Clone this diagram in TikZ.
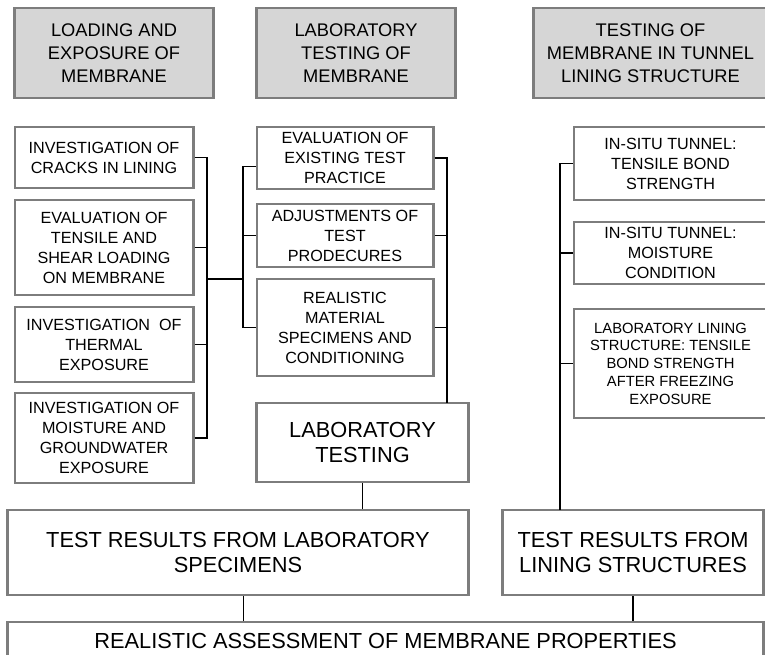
\documentclass[tikz,border=0pt]{standalone}
\usepackage{fontspec}
\setmainfont{Liberation Sans}
\definecolor{boxgray}{RGB}{125,125,125}
\definecolor{headfill}{RGB}{214,214,214}

\begin{document}
\begin{tikzpicture}[x=0.025cm, y=-0.025cm,
  box/.style = {draw=boxgray, line width=2.1pt, fill=white, inner sep=0pt, align=center},
  head/.style = {box, fill=headfill, font=\fontsize{13}{16.4}\selectfont},
  small/.style = {box, font=\fontsize{11.5}{14.2}\selectfont},
  tiny/.style = {box, font=\fontsize{10.5}{12.6}\selectfont},
  big/.style = {box, font=\fontsize{15.5}{18.2}\selectfont},
  link/.style = {line width=1pt}]
\useasboundingbox (0,0) rectangle (765,655);

% headers
\path (114,53) node[head, minimum width=4.95cm, minimum height=2.25cm] (h1) {LOADING AND\\EXPOSURE OF\\MEMBRANE};
\path (356,53) node[head, minimum width=4.95cm, minimum height=2.25cm] (h2) {LABORATORY\\TESTING OF\\MEMBRANE};
\path (650.5,53) node[head, minimum width=5.825cm, minimum height=2.25cm] (h3) {TESTING OF\\MEMBRANE IN TUNNEL\\LINING STRUCTURE};

% left column
\path (104,157.5) node[small, minimum width=4.45cm, minimum height=1.525cm] (l1) {INVESTIGATION OF\\CRACKS IN LINING};
\path (104,247.5) node[small, minimum width=4.45cm, minimum height=2.375cm] (l2) {EVALUATION OF\\TENSILE AND\\SHEAR LOADING\\ON MEMBRANE};
\path (104,344.5) node[small, minimum width=4.45cm, minimum height=1.875cm] (l3) {INVESTIGATION\ \ OF\\THERMAL\\EXPOSURE};
\path (104,438) node[small, minimum width=4.45cm, minimum height=2.25cm] (l4) {INVESTIGATION OF\\MOISTURE AND\\GROUNDWATER\\EXPOSURE};

% middle column
\path (345,158) node[small, minimum width=4.4cm, minimum height=1.55cm] (m1) {EVALUATION OF\\EXISTING TEST\\PRACTICE};
\path (345,235.5) node[small, minimum width=4.4cm, minimum height=1.575cm] (m2) {ADJUSTMENTS OF\\TEST\\PRODECURES};
\path (345,327.5) node[small, minimum width=4.4cm, minimum height=2.425cm] (m3) {REALISTIC\\MATERIAL\\SPECIMENS AND\\CONDITIONING};
\path (362.5,442.5) node[big, minimum width=5.275cm, minimum height=1.975cm] (lab) {LABORATORY\\TESTING};

% right column
\path (670.5,163.5) node[small, minimum width=4.825cm, minimum height=1.825cm] (t1) {IN-SITU TUNNEL:\\TENSILE BOND\\STRENGTH};
\path (670.5,253) node[small, minimum width=4.825cm, minimum height=1.55cm] (t2) {IN-SITU TUNNEL:\\MOISTURE\\CONDITION};
\path (670.5,363.5) node[tiny, minimum width=4.825cm, minimum height=2.725cm] (t3) {LABORATORY LINING\\STRUCTURE: TENSILE\\BOND STRENGTH\\AFTER FREEZING\\EXPOSURE};

% results
\path (238,552.5) node[big, minimum width=11.5cm, minimum height=2.125cm] (r1) {TEST RESULTS FROM LABORATORY\\SPECIMENS};
\path (633,552.5) node[big, minimum width=6.5cm, minimum height=2.125cm] (r2) {TEST RESULTS FROM\\LINING STRUCTURES};
\path (385.5,641) node[big, minimum width=18.875cm, minimum height=0.95cm] (fin) {REALISTIC ASSESSMENT OF MEMBRANE PROPERTIES};

% bus points
\coordinate (lb) at (207,279);
\coordinate (mb) at (243,279);
\coordinate (mr) at (447,403);
\coordinate (rb) at (560,510);

\draw[link] (l1.east) -| (lb);
\draw[link] (l2.east) -| (lb);
\draw[link] (l3.east) -| (lb);
\draw[link] (l4.east) -| (lb);
\draw[link] (lb) -- (mb);
\draw[link] ([yshift=-6pt]m1.west) -| (mb);
\draw[link] (m2.west) -| (mb);
\draw[link] (m3.west) -| (mb);

\draw[link] (m1.east) -| (mr);
\draw[link] (m2.east) -| (mr);
\draw[link] (m3.east) -| (mr);

\draw[link] (t1.west) -| (rb);
\draw[link] (t2.west) -| (rb);
\draw[link] (t3.west) -| (rb);

\draw[link] (lab.south) -- (lab.south |- r1.north);
\draw[link] ([xshift=4pt]r1.south) -- ([xshift=4pt]r1.south |- fin.north);
\draw[link] (r2.south) -- (r2.south |- fin.north);
\end{tikzpicture}
\end{document}
